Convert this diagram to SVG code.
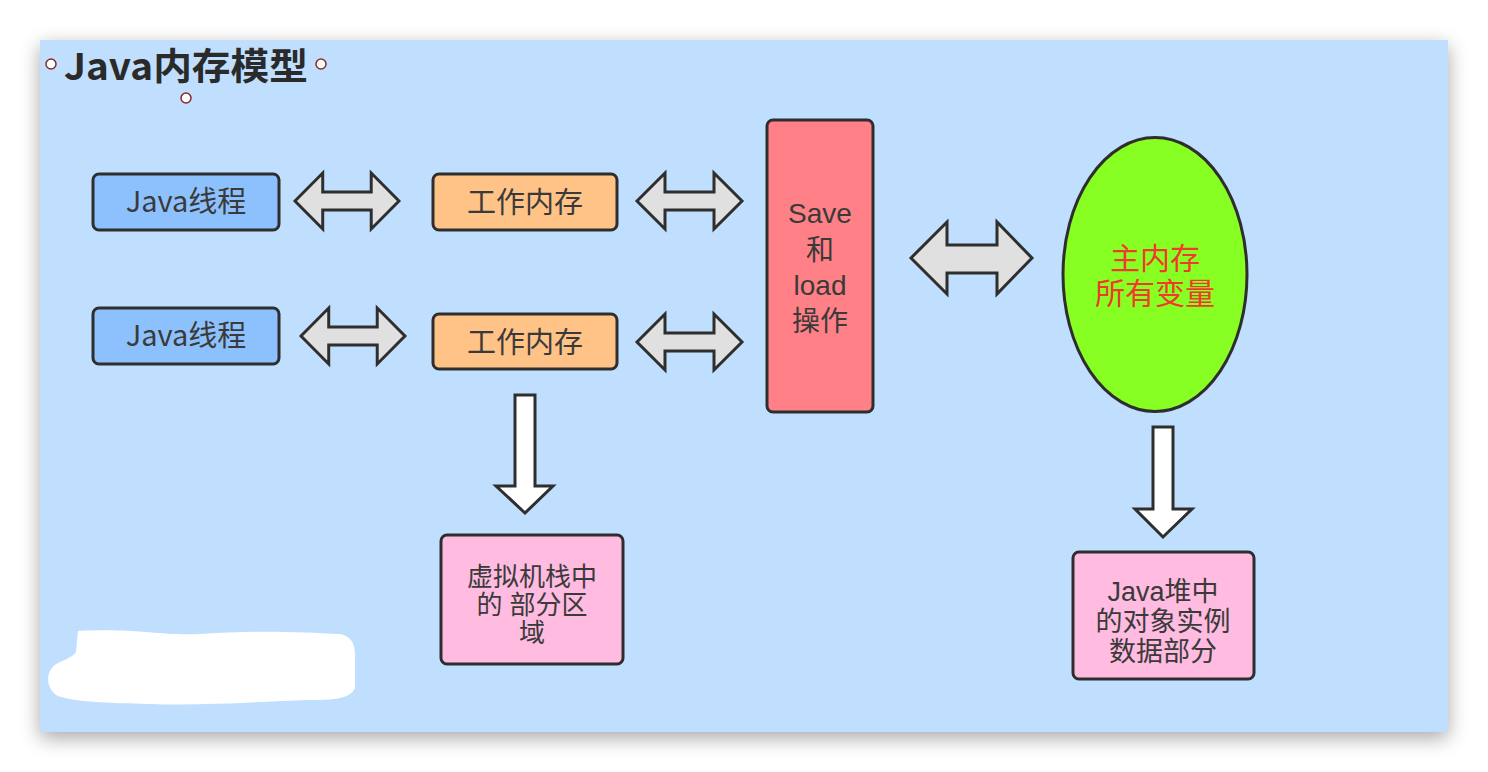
<svg xmlns="http://www.w3.org/2000/svg" width="1488" height="772" viewBox="0 0 1488 772">
<defs>
<filter id="sh" x="-5%" y="-8%" width="110%" height="118%">
<feGaussianBlur in="SourceAlpha" stdDeviation="10"/>
<feOffset dx="0" dy="6" result="b"/>
<feComponentTransfer><feFuncA type="linear" slope="0.35"/></feComponentTransfer>
<feMerge><feMergeNode/><feMergeNode in="SourceGraphic"/></feMerge>
</filter>
<path id="dbl" d="M0,0 L28,-28 L28,-9 L77,-9 L77,-28 L105,0 L77,28 L77,9 L28,9 L28,28 Z"/>
</defs>
<style>
.t{font-family:"Noto Sans CJK SC","Noto Sans",sans-serif;fill:#3a3a3a;text-anchor:middle}
.tc{font-family:"Liberation Sans","Noto Sans CJK SC",sans-serif;fill:#3a3a3a;text-anchor:middle}
.box{stroke:#2e2e2e;stroke-width:3}
.arr{fill:#e0e0e0;stroke:#2e2e2e;stroke-width:3;stroke-linejoin:miter}
.down{fill:#ffffff;stroke:#2e2e2e;stroke-width:3}
.h{fill:#fff;stroke:#8a2a2a;stroke-width:1.5}
</style>
<rect width="1488" height="772" fill="#ffffff"/>
<rect x="40" y="40" width="1408" height="692" fill="#c0defd" filter="url(#sh)"/>
<g id="title">
<text x="64" y="80" font-family="'Noto Sans CJK SC',sans-serif" font-weight="bold" font-size="37" fill="#2a2a2a" textLength="244" lengthAdjust="spacingAndGlyphs">Java内存模型</text>
<circle class="h" cx="51" cy="64" r="5"/>
<circle class="h" cx="321" cy="64" r="5"/>
<circle class="h" cx="186" cy="98" r="5"/>
</g>
<g id="thread1"><rect class="box" x="93" y="174" width="186" height="56" rx="6" fill="#8dc1fd"/><text class="t" x="186" y="212" font-size="29">Java线程</text></g>
<g id="thread2"><rect class="box" x="93" y="308" width="186" height="56" rx="6" fill="#8dc1fd"/><text class="t" x="186" y="346" font-size="29">Java线程</text></g>
<g id="work1"><rect class="box" x="433" y="174" width="184" height="56" rx="6" fill="#ffc287"/><text class="t" x="525" y="213" font-size="29">工作内存</text></g>
<g id="work2"><rect class="box" x="433" y="314" width="184" height="55" rx="6" fill="#ffc287"/><text class="t" x="525" y="353" font-size="29">工作内存</text></g>
<g id="saveload"><rect class="box" x="767" y="120" width="106" height="292" rx="6" fill="#ff8087"/>
<text class="tc" font-size="28"><tspan x="820" y="223">Save</tspan><tspan x="820" y="260">和</tspan><tspan x="820" y="295">load</tspan><tspan x="820" y="331">操作</tspan></text></g>
<g id="mainmem"><ellipse class="box" cx="1155" cy="274.5" rx="92" ry="137" fill="#88ff22"/>
<text class="tc" font-size="30" style="fill:#f03a2a"><tspan x="1155" y="269">主内存</tspan><tspan x="1155" y="304">所有变量</tspan></text></g>
<g id="stack"><rect class="box" x="441" y="535" width="182" height="129" rx="6" fill="#ffbbe0"/>
<text class="tc" font-size="26"><tspan x="532" y="586">虚拟机栈中</tspan><tspan x="532" y="614">的 部分区</tspan><tspan x="532" y="642">域</tspan></text></g>
<g id="heap"><rect class="box" x="1073" y="552" width="181" height="127" rx="6" fill="#ffbbe0"/>
<text class="tc" font-size="27"><tspan x="1163" y="601">Java堆中</tspan><tspan x="1163" y="631">的对象实例</tspan><tspan x="1163" y="661">数据部分</tspan></text></g>
<g id="connectors">
<use href="#dbl" class="arr" transform="translate(295,201) scale(0.99,1)"/>
<use href="#dbl" class="arr" transform="translate(301,336) scale(0.99,1)"/>
<use href="#dbl" class="arr" transform="translate(637,201)"/>
<use href="#dbl" class="arr" transform="translate(637,342)"/>
<path class="arr" d="M911,258 L947,222 L947,245 L997,245 L997,222 L1032,258 L997,294 L997,273 L947,273 L947,294 Z"/>
<path class="down" d="M515,395 L535,395 L535,486 L553,486 L525,513 L496,486 L515,486 Z"/>
<path class="down" d="M1153,427 L1173,427 L1173,509 L1192,509 L1163,537 L1135,509 L1153,509 Z"/>
</g>
<path d="M78,631 C140,628 160,636 200,634 C260,630 300,632 340,634 C352,636 356,645 355,660 L355,688 C350,700 330,700 310,700 C250,702 200,706 150,704 C110,703 70,702 56,695 C44,685 46,668 60,662 C70,658 74,655 76,652 Z" fill="#ffffff"/>
</svg>
